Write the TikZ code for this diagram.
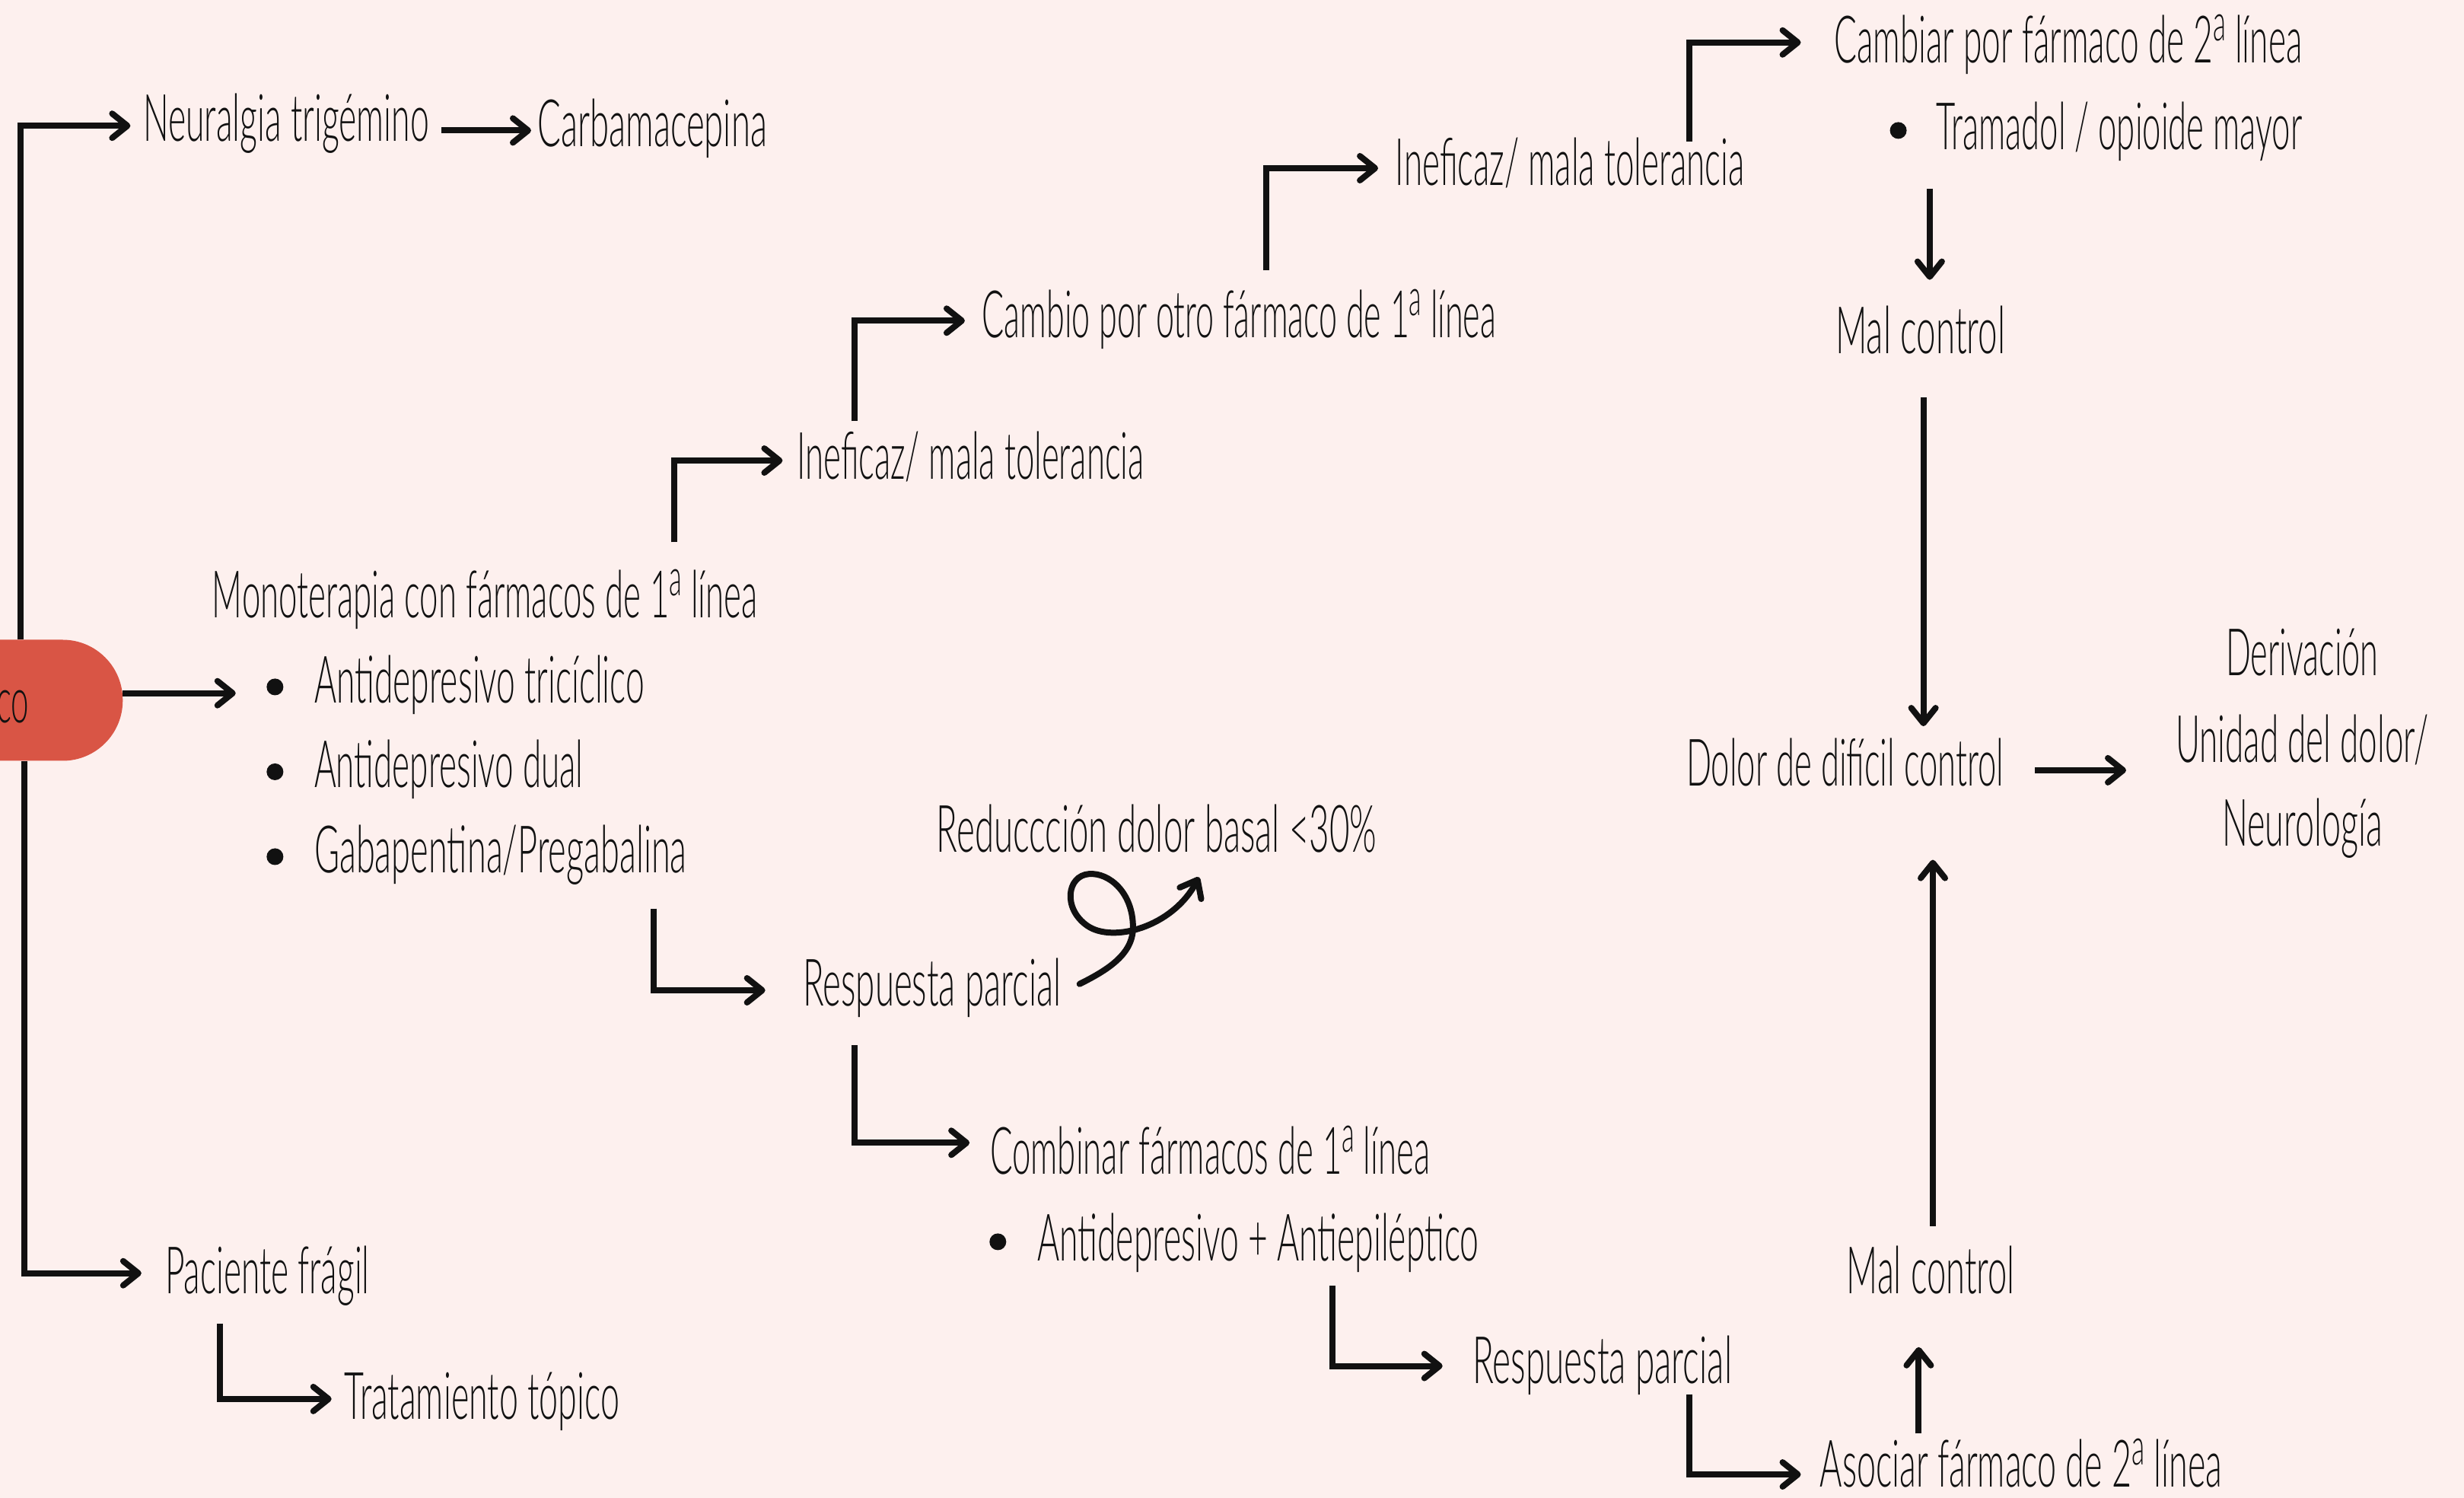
\documentclass[tikz,border=0pt]{standalone}
\usepackage{fontspec}
\usepackage{graphicx}
\setmainfont{Lato Light}[FakeStretch=0.5]
\usetikzlibrary{arrows.meta}
\definecolor{bg}{HTML}{FDF0EE}
\definecolor{redbox}{HTML}{D95545}
\definecolor{ink}{HTML}{111111}
\newcommand{\fw}[2]{\resizebox{\dimexpr #1pt*2065/1000\relax}{\height}{#2}}
\newcommand{\sa}{\raisebox{29pt}{\fontsize{68}{68}\selectfont a}}
\begin{document}
\begin{tikzpicture}[x=2.065pt,y=-2.065pt,
  txt/.style={inner sep=0pt,anchor=base west,text=ink,font=\fontsize{86}{100}\selectfont},
  ctxt/.style={txt,anchor=base},
  con/.style={line width=8pt,draw=ink,line join=miter},
  arr/.style={con,-{Straight Barb[length=20pt,width=32pt,round]}},
  bul/.style={circle,fill=ink,inner sep=0pt,minimum size=22pt}]
\clip (0,0) rectangle (1568,953);
\fill[bg] (0,0) rectangle (1568,953);

% start shape
\node[fill=redbox,rounded corners=79pt,minimum width=368pt,minimum height=159pt,inner sep=0pt] (start) at (-11,445.5) {};
\node[txt,anchor=base east,font=\fontsize{84}{90}\selectfont] (startlbl) at (18.5,460) {co};

% text nodes
\node[txt] (neur) at (91,90) {\fw{182}{Neuralgia trigémino}};
\node[txt] (carb) at (342,93) {\fw{146}{Carbamacepina}};
\node[txt] (mono) at (135,393) {\fw{347}{Monoterapia con fármacos de 1\sa{} línea}};
\node[bul] (bm1) at (175,437) {};
\node[bul] (bm2) at (175,491) {};
\node[bul] (bm3) at (175,545) {};
\node[txt] (tri) at (200,447) {\fw{210}{Antidepresivo tricíclico}};
\node[txt] (dual) at (200,501) {\fw{171}{Antidepresivo dual}};
\node[txt] (gaba) at (200,555) {\fw{237}{Gabapentina/Pregabalina}};
\node[txt] (inef1) at (507,305) {\fw{221}{Ineficaz/ mala tolerancia}};
\node[txt] (camb1) at (625,215) {\fw{327}{Cambio por otro fármaco de 1\sa{} línea}};
\node[txt] (inef2) at (888,118) {\fw{222}{Ineficaz/ mala tolerancia}};
\node[txt] (camb2) at (1167,40) {\fw{298}{Cambiar por fármaco de 2\sa{} línea}};
\node[bul] (bt) at (1208,83) {};
\node[txt] (tram) at (1232,95) {\fw{233}{Tramadol / opioide mayor}};
\node[txt] (mal1) at (1168,225) {\fw{108}{Mal control}};
\node[txt] (dolor) at (1073,500) {\fw{202}{Dolor de difícil control}};
\node[ctxt] (deriv) at (1465,430) {\fw{97}{Derivación}};
\node[ctxt] (unid) at (1465,485) {\fw{161}{Unidad del dolor/}};
\node[ctxt] (neuro) at (1465,538) {\fw{102}{Neurología}};
\node[txt] (reduc) at (596,542) {\fw{280}{Reduccción dolor basal <30\%}};
\node[txt] (resp1) at (511,640) {\fw{164}{Respuesta parcial}};
\node[txt] (comb) at (630,747) {\fw{280}{Combinar fármacos de 1\sa{} línea}};
\node[bul] (bc) at (635,790) {};
\node[txt] (anti) at (660,802) {\fw{281}{Antidepresivo + Antiepiléptico}};
\node[txt] (resp2) at (937,880) {\fw{165}{Respuesta parcial}};
\node[txt] (asoc) at (1158,946) {\fw{256}{Asociar fármaco de 2\sa{} línea}};
\node[txt] (mal2) at (1175,823) {\fw{107}{Mal control}};
\node[txt] (pac) at (105,823) {\fw{130}{Paciente frágil}};
\node[txt] (trat) at (219,903) {\fw{175}{Tratamiento tópico}};

% connector end points
\coordinate (t0) at (13,407);   \coordinate (t1) at (83,80);
\coordinate (b0) at (15.5,484); \coordinate (b1) at (90,810);
\coordinate (nc0) at (281,83);  \coordinate (nc1) at (338,83);
\coordinate (sm0) at (78,441);  \coordinate (sm1) at (150,441);
\coordinate (mi0) at (429,345); \coordinate (mi1) at (498,293);
\coordinate (ic0) at (544,268); \coordinate (ic1) at (614,204);
\coordinate (ci0) at (806,172); \coordinate (ci1) at (877,107);
\coordinate (ik0) at (1075,90); \coordinate (ik1) at (1146,27);
\coordinate (km0) at (1228,120); \coordinate (km1) at (1228,178);
\coordinate (md0) at (1224,253); \coordinate (md1) at (1224,462);
\coordinate (dd0) at (1295,490); \coordinate (dd1) at (1353,490);
\coordinate (gr0) at (416,578); \coordinate (gr1) at (487,630);
\coordinate (rc0) at (544,665); \coordinate (rc1) at (617,727);
\coordinate (ar0) at (848,818); \coordinate (ar1) at (918,869);
\coordinate (ra0) at (1075,887); \coordinate (ra1) at (1146,938);
\coordinate (am0) at (1221,912); \coordinate (am1) at (1221,857);
\coordinate (mu0) at (1230,780); \coordinate (mu1) at (1230,547);
\coordinate (pt0) at (140,842); \coordinate (pt1) at (211,890);
\coordinate (cu0) at (687,626); \coordinate (cu1) at (763,558);

% connectors
\draw[arr] (t0) |- (t1);
\draw[arr] (b0) |- (b1);
\draw[arr] (nc0) -- (nc1);
\draw[arr] (sm0) -- (sm1);
\draw[arr] (mi0) |- (mi1);
\draw[arr] (ic0) |- (ic1);
\draw[arr] (ci0) |- (ci1);
\draw[arr] (ik0) |- (ik1);
\draw[arr] (km0) -- (km1);
\draw[arr] (md0) -- (md1);
\draw[arr] (dd0) -- (dd1);
\draw[arr] (gr0) |- (gr1);
\draw[arr] (rc0) |- (rc1);
\draw[arr] (ar0) |- (ar1);
\draw[arr] (ra0) |- (ra1);
\draw[arr] (am0) -- (am1);
\draw[arr] (mu0) -- (mu1);
\draw[arr] (pt0) |- (pt1);
\draw[arr,line width=8pt,line cap=round] (cu0) .. controls (705,617) and (721,607) .. (721,590)
  .. controls (721,568) and (706,555) .. (693,556)
  .. controls (679,557) and (676,578) .. (692,589)
  .. controls (708,600) and (746,590) .. (cu1);
\end{tikzpicture}
\end{document}
